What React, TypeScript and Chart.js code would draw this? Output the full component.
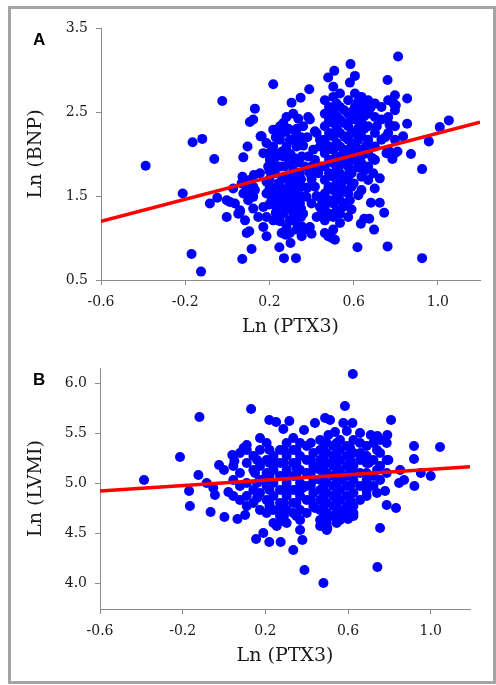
import React, { useEffect, useRef } from 'react';
import { Chart, registerables } from 'chart.js';

Chart.register(...registerables);

// ---------- data ----------
const xTickValues = [-0.6, -0.2, 0.2, 0.6, 1.0];
const bnpTickValues = [0.5, 1.5, 2.5, 3.5];
const lvmiTickValues = [4.0, 4.5, 5.0, 5.5, 6.0];

const fitLineX = [-0.6, 1.2];
const fitBnpY = [1.2, 2.38];
const fitLvmiY = [4.92, 5.165];

// Panel A: [Ln (PTX3), Ln (BNP)]
const ptx3VsBnp: [number, number][] = [
  [-0.388, 1.86], [-0.212, 1.53], [-0.17, 0.81], [-0.125, 0.6], [-0.165, 2.14], [-0.119, 2.18],
  [-0.024, 2.63], [-0.062, 1.94], [-0.083, 1.41], [-0.048, 1.48], [-0.003, 1.25], [-0.003, 1.45],
  [0.028, 1.59], [0.071, 0.75], [0.115, 0.87], [0.092, 1.06], [0.218, 2.83], [0.131, 2.54],
  [0.107, 2.38], [0.123, 2.41], [0.158, 2.21], [0.096, 2.09], [0.076, 1.96], [0.072, 1.73],
  [0.126, 1.75], [0.1, 1.53], [0.06, 1.31], [0.186, 1.02], [0.247, 0.89], [0.269, 0.76],
  [0.326, 0.76], [0.3, 0.94], [0.277, 1.04], [0.353, 1.02], [0.392, 1.13], [0.305, 2.61],
  [0.348, 2.67], [0.389, 2.77], [0.384, 2.44], [0.326, 2.25], [0.281, 2.44], [0.479, 2.91],
  [0.508, 2.99], [0.585, 3.07], [0.606, 2.93], [0.582, 2.85], [0.811, 3.16], [0.761, 2.88],
  [0.796, 2.7], [0.8, 2.58], [0.854, 2.66], [0.854, 2.36], [1.009, 2.32], [1.052, 2.4],
  [0.957, 2.15], [0.925, 1.82], [0.872, 2.0], [0.835, 2.21], [0.808, 2.03], [0.784, 1.94],
  [0.756, 2.01], [0.925, 0.76], [0.761, 0.9], [0.618, 0.89], [0.697, 1.1], [0.65, 1.23],
  [0.674, 1.23], [0.634, 1.17], [0.745, 1.3], [0.724, 1.42], [0.682, 1.42], [0.7, 1.59],
  [0.724, 1.71], [0.693, 1.77], [0.622, 1.51], [0.582, 1.45], [0.59, 1.34], [0.547, 1.68],
  [0.58, 1.77], [0.535, 1.18], [0.511, 0.98], [0.479, 1.02], [0.497, 1.0], [0.424, 1.5],
  [0.44, 1.27],
  [0.036, 1.41], [0.052, 1.29], [0.084, 1.21], [0.104, 1.08], [0.06, 1.33], [0.099, 1.45],
  [0.123, 1.49], [0.076, 1.53], [0.123, 1.35], [0.147, 1.25], [0.012, 1.43], [0.068, 1.65],
  [0.091, 1.61], [0.123, 1.61], [0.107, 1.69], [0.131, 1.57],
  [0.163, 2.21], [0.186, 2.13], [0.21, 2.05], [0.171, 2.01], [0.202, 1.93], [0.234, 1.97],
  [0.218, 2.09], [0.25, 2.17], [0.281, 2.09], [0.266, 1.97], [0.297, 1.89], [0.25, 1.85],
  [0.226, 1.77], [0.186, 1.67], [0.202, 1.61], [0.242, 1.65], [0.281, 1.73], [0.313, 1.81],
  [0.186, 1.53], [0.21, 1.45], [0.25, 1.49], [0.281, 1.45], [0.305, 1.53], [0.234, 1.37],
  [0.266, 1.29], [0.297, 1.21], [0.281, 1.13], [0.218, 1.21], [0.186, 1.25], [0.171, 1.13],
  [0.25, 1.61], [0.297, 1.65], [0.329, 1.69], [0.345, 1.77], [0.353, 1.97], [0.329, 2.09],
  [0.297, 2.17], [0.281, 2.27], [0.25, 2.33], [0.218, 2.29], [0.266, 2.37], [0.313, 2.48],
  [0.337, 2.42], [0.36, 2.33], [0.392, 2.41], [0.416, 2.27], [0.44, 2.17], [0.408, 2.05],
  [0.384, 1.97], [0.368, 1.85], [0.392, 1.77], [0.353, 1.61], [0.376, 1.49], [0.345, 1.41],
  [0.4, 1.41], [0.36, 1.29], [0.313, 1.37], [0.313, 1.29], [0.329, 1.1], [0.353, 1.14],
  [0.297, 1.06], [0.424, 1.25], [0.44, 1.37], [0.424, 2.25], [0.44, 2.09], [0.416, 1.93],
  [0.432, 1.77], [0.416, 1.61], [0.44, 1.85], [0.218, 1.53], [0.171, 1.37], [0.194, 1.85],
  [0.155, 1.77], [0.242, 1.21], [0.258, 1.06], [0.21, 1.77],
  [0.463, 2.64], [0.463, 2.48], [0.463, 2.33], [0.463, 2.17], [0.463, 2.01], [0.463, 1.85],
  [0.463, 1.69], [0.463, 1.53], [0.463, 1.37], [0.463, 1.21], [0.463, 1.06],
  [0.503, 2.8], [0.503, 2.68], [0.503, 2.52], [0.503, 2.37], [0.503, 2.21], [0.503, 2.05],
  [0.503, 1.89], [0.503, 1.73], [0.503, 1.57], [0.503, 1.41], [0.503, 1.25], [0.503, 1.1],
  [0.535, 2.72], [0.535, 2.56], [0.535, 2.41], [0.535, 2.25], [0.535, 2.09], [0.535, 1.93],
  [0.535, 1.77], [0.535, 1.61], [0.535, 1.45], [0.535, 1.29],
  [0.574, 2.64], [0.574, 2.48], [0.574, 2.33], [0.574, 2.17], [0.574, 2.01], [0.574, 1.85],
  [0.574, 1.69], [0.574, 1.53],
  [0.606, 2.72], [0.606, 2.56], [0.606, 2.41], [0.606, 2.25], [0.606, 2.09], [0.606, 1.93],
  [0.637, 2.68], [0.637, 2.52], [0.637, 2.37], [0.637, 2.21], [0.637, 2.05], [0.637, 1.89],
  [0.637, 1.73], [0.637, 1.57],
  [0.669, 2.64], [0.669, 2.48], [0.669, 2.33], [0.669, 2.17], [0.669, 2.01], [0.669, 1.85],
  [0.669, 1.69],
  [0.701, 2.6], [0.701, 2.44], [0.701, 2.25], [0.701, 2.09], [0.701, 1.93],
  [0.732, 2.56], [0.732, 2.41], [0.732, 2.17],
  [0.764, 2.64], [0.764, 2.44], [0.764, 2.25], [0.764, 2.05],
  [0.796, 2.52], [0.796, 2.33], [0.796, 2.17], [0.796, 2.01],
  [0.574, 1.25], [0.55, 1.37],
  [0.48, 1.6], [0.52, 1.5], [0.49, 1.75], [0.51, 1.95], [0.47, 2.1], [0.52, 2.3],
  [0.49, 2.45], [0.55, 2.0], [0.56, 2.2], [0.53, 1.85], [0.6, 2.0], [0.62, 2.3],
  [0.59, 2.5], [0.45, 1.45], [0.47, 1.3], [0.55, 1.55], [0.6, 1.65], [0.65, 2.45],
  [0.68, 2.55], [0.71, 2.33], [0.75, 2.2], [0.77, 2.35], [0.79, 2.6], [0.66, 2.1],
  [0.63, 1.95], [0.69, 1.95],
  [0.2, 1.7], [0.23, 1.45], [0.26, 1.55], [0.29, 1.35], [0.25, 1.2], [0.32, 1.55],
  [0.35, 1.25], [0.38, 1.6], [0.3, 1.75], [0.27, 1.85], [0.22, 1.9], [0.24, 2.0],
  [0.3, 2.0], [0.34, 1.9], [0.36, 2.1], [0.38, 2.2], [0.33, 2.3], [0.4, 1.85],
  [0.4, 1.7], [0.4, 1.05], [0.37, 1.1],
  [0.483, 2.56], [0.483, 2.4], [0.483, 2.25], [0.483, 2.09], [0.483, 1.93], [0.483, 1.77],
  [0.483, 1.61], [0.483, 1.45], [0.483, 1.29],
  [0.519, 2.6], [0.519, 2.45], [0.519, 2.29], [0.519, 2.13], [0.519, 1.97], [0.519, 1.81],
  [0.519, 1.65], [0.519, 1.49], [0.519, 1.33],
  [0.555, 2.52], [0.555, 2.37], [0.555, 2.21], [0.555, 2.05], [0.555, 1.89], [0.555, 1.73],
  [0.555, 1.57], [0.555, 1.41],
  [0.59, 2.41], [0.59, 2.25], [0.59, 2.09], [0.59, 1.93], [0.59, 1.77], [0.59, 1.61],
  [0.62, 2.62], [0.62, 2.48], [0.62, 2.16], [0.62, 1.84],
  [0.65, 2.6], [0.65, 2.3], [0.65, 2.0], [0.65, 1.8],
  [0.2, 2.0], [0.2, 1.8], [0.2, 1.58], [0.2, 1.4],
  [0.23, 2.2], [0.23, 1.85], [0.23, 1.6], [0.23, 1.3],
  [0.26, 2.25], [0.26, 2.03], [0.26, 1.7], [0.26, 1.4],
  [0.29, 2.3], [0.29, 1.95], [0.29, 1.6], [0.29, 1.5],
  [0.32, 2.15], [0.32, 1.95], [0.32, 1.65], [0.32, 1.45], [0.32, 1.2],
  [0.35, 2.2], [0.35, 1.7], [0.35, 1.5], [0.35, 1.35],
];

// Panel B: [Ln (PTX3), Ln (LVMI)]
const ptx3VsLvmi: [number, number][] = [
  [-0.387, 5.03], [-0.213, 5.26], [-0.169, 4.92], [-0.165, 4.77], [-0.119, 5.66], [-0.124, 5.08],
  [-0.084, 5.0], [-0.065, 4.71], [-0.044, 4.88], [-0.052, 4.95], [-0.024, 5.18], [0.0, 5.13],
  [0.002, 4.66], [0.021, 4.91], [0.04, 5.28], [0.065, 4.64], [0.102, 4.68], [0.11, 5.38],
  [0.131, 5.74], [0.155, 4.44], [0.19, 4.5], [0.219, 4.41], [0.274, 4.41], [0.335, 4.33],
  [0.368, 4.53], [0.379, 4.43], [0.389, 4.13], [0.481, 4.0], [0.623, 6.09], [0.585, 5.77],
  [0.808, 5.63], [0.742, 4.16], [0.755, 4.55], [0.779, 4.92], [0.787, 4.78], [0.832, 4.75],
  [0.847, 5.0], [0.919, 5.37], [0.919, 5.24], [0.921, 4.97], [0.952, 5.1], [1.0, 5.07],
  [1.045, 5.36], [0.852, 5.13], [0.871, 5.03], [0.795, 5.23],
  [0.174, 5.45], [0.219, 5.63], [0.252, 5.61], [0.316, 5.62], [0.287, 5.54], [0.387, 5.53],
  [0.44, 5.6], [0.489, 5.65], [0.513, 5.63], [0.335, 5.45], [0.577, 5.6], [0.621, 5.6],
  [0.505, 5.48], [0.537, 5.51], [0.594, 5.52], [0.658, 5.5], [0.79, 5.48], [0.742, 5.47],
  [0.71, 5.48],
  [0.045, 5.17], [0.045, 5.03], [0.045, 4.87],
  [0.077, 5.3], [0.077, 5.1], [0.077, 4.97], [0.077, 4.83],
  [0.11, 5.33], [0.11, 5.2], [0.11, 5.0], [0.11, 4.87], [0.11, 4.77],
  [0.142, 5.27], [0.142, 5.13], [0.142, 4.93], [0.142, 4.8],
  [0.174, 5.33], [0.174, 5.17], [0.174, 5.03], [0.174, 4.9], [0.174, 4.73],
  [0.206, 5.4], [0.206, 5.23], [0.206, 5.1], [0.206, 4.97], [0.206, 4.83], [0.206, 4.7],
  [0.239, 5.27], [0.239, 5.13], [0.239, 5.0], [0.239, 4.87], [0.239, 4.73], [0.239, 4.6],
  [0.271, 5.33], [0.271, 5.2], [0.271, 5.07], [0.271, 4.93], [0.271, 4.8], [0.271, 4.67],
  [0.303, 5.4], [0.303, 5.27], [0.303, 5.13], [0.303, 5.0], [0.303, 4.87], [0.303, 4.73], [0.303, 4.6],
  [0.335, 5.33], [0.335, 5.2], [0.335, 5.07], [0.335, 4.93], [0.335, 4.8], [0.335, 4.7],
  [0.368, 5.4], [0.368, 5.27], [0.368, 5.13], [0.368, 5.0], [0.368, 4.87], [0.368, 4.73], [0.368, 4.63],
  [0.4, 5.37], [0.4, 5.23], [0.4, 5.1], [0.4, 4.97], [0.4, 4.83], [0.4, 4.7],
  [0.432, 5.3], [0.432, 5.17], [0.432, 5.03], [0.432, 4.9], [0.432, 4.77],
  [0.465, 5.43], [0.465, 5.33], [0.465, 5.23], [0.465, 5.13], [0.465, 5.03], [0.465, 4.93],
  [0.465, 4.83], [0.465, 4.73], [0.465, 4.63],
  [0.497, 5.4], [0.497, 5.3], [0.497, 5.2], [0.497, 5.1], [0.497, 5.0], [0.497, 4.9],
  [0.497, 4.8], [0.497, 4.7], [0.497, 4.6], [0.497, 4.53],
  [0.529, 5.37], [0.529, 5.27], [0.529, 5.17], [0.529, 5.07], [0.529, 4.97], [0.529, 4.87],
  [0.529, 4.77], [0.529, 4.67],
  [0.561, 5.43], [0.561, 5.33], [0.561, 5.23], [0.561, 5.13], [0.561, 5.03], [0.561, 4.93],
  [0.561, 4.83], [0.561, 4.73], [0.561, 4.63],
  [0.594, 5.37], [0.594, 5.27], [0.594, 5.17], [0.594, 5.07], [0.594, 4.97], [0.594, 4.87], [0.594, 4.77],
  [0.626, 5.43], [0.626, 5.3], [0.626, 5.17], [0.626, 5.03], [0.626, 4.9], [0.626, 4.77], [0.626, 4.67],
  [0.658, 5.4], [0.658, 5.23], [0.658, 5.1], [0.658, 4.97], [0.658, 4.83],
  [0.69, 5.37], [0.69, 5.27], [0.69, 5.1], [0.69, 4.97], [0.69, 4.87],
  [0.723, 5.4], [0.723, 5.23], [0.723, 5.07], [0.723, 4.97],
  [0.755, 5.43], [0.755, 5.3], [0.755, 5.17], [0.755, 5.03],
  [0.787, 5.4], [0.787, 5.23], [0.787, 5.1],
  [0.6, 4.64], [0.626, 4.7], [0.465, 4.57], [0.5, 4.55], [0.255, 4.57], [0.28, 4.62],
  [0.05, 5.22], [0.095, 5.35],
  [0.45, 5.15], [0.48, 4.95], [0.52, 5.2], [0.54, 4.85], [0.57, 5.05], [0.5, 4.65],
  [0.44, 4.75], [0.58, 4.7], [0.62, 5.1], [0.66, 5.3], [0.7, 5.2], [0.35, 5.15],
  [0.3, 4.95], [0.25, 5.2], [0.2, 5.05], [0.15, 5.1], [0.22, 4.8], [0.28, 4.75],
  [0.38, 4.95], [0.42, 5.4],
  [0.48, 5.35], [0.48, 5.25], [0.48, 5.15], [0.48, 5.05], [0.48, 4.85], [0.48, 4.75],
  [0.48, 4.65], [0.48, 4.57],
  [0.545, 5.4], [0.545, 5.3], [0.545, 5.2], [0.545, 5.1], [0.545, 5.0], [0.545, 4.9],
  [0.545, 4.8], [0.545, 4.7], [0.545, 4.6],
  [0.61, 5.35], [0.61, 5.23], [0.61, 5.1], [0.61, 4.97], [0.61, 4.83], [0.61, 4.72],
  [0.42, 5.23], [0.42, 5.1], [0.42, 4.97], [0.42, 4.83],
  [0.35, 5.33], [0.35, 5.2], [0.35, 5.07], [0.35, 4.93], [0.35, 4.8], [0.35, 4.67],
  [0.29, 5.33], [0.29, 5.2], [0.29, 5.07], [0.29, 4.93], [0.29, 4.8], [0.29, 4.67],
  [0.22, 5.33], [0.22, 5.2], [0.22, 5.07], [0.22, 4.93], [0.22, 4.77],
  [0.16, 5.23], [0.16, 5.0], [0.16, 4.85],
  [0.69, 5.2], [0.69, 5.03], [0.69, 4.92],
  [0.74, 5.33], [0.74, 5.13], [0.74, 4.9],
];

// ---------- styling ----------
const AXIS_COLOR = '#8a8a8a';
const TEXT_COLOR = '#1a1a1a';
const SERIF = "'DejaVu Serif', serif";

type PanelSpec = {
  points: [number, number][];
  fitY: number[];
  yMin: number;
  yMax: number;
  yTicks: number[];
  xMax: number;
  yTitle: string;
  padding: { top: number; right: number; bottom: number; left: number };
  yAxisWidth: number;
};

function buildConfig(p: PanelSpec): any {
  return {
    type: 'scatter',
    data: {
      datasets: [
        {
          type: 'line',
          data: fitLineX.map((x, i) => ({ x, y: p.fitY[i] })),
          borderColor: '#ff0000',
          borderWidth: 3.5,
          pointRadius: 0,
          fill: false,
          order: 0,
        },
        {
          type: 'scatter',
          data: p.points.map(([x, y]) => ({ x, y })),
          backgroundColor: '#0000ff',
          borderWidth: 0,
          pointRadius: 5,
          order: 1,
        },
      ],
    },
    options: {
      responsive: false,
      animation: false,
      events: [],
      layout: { padding: p.padding },
      plugins: { legend: { display: false }, tooltip: { enabled: false } },
      scales: {
        x: {
          type: 'linear',
          min: -0.6,
          max: p.xMax,
          afterBuildTicks: (s: any) => {
            s.ticks = xTickValues.map((v) => ({ value: v }));
          },
          afterFit: (s: any) => {
            s.height = 60;
          },
          grid: { drawOnChartArea: false, drawTicks: true, tickLength: 5, color: AXIS_COLOR },
          border: { display: true, color: AXIS_COLOR, width: 1 },
          ticks: {
            font: { family: SERIF, size: 14 },
            color: TEXT_COLOR,
            padding: 9,
            maxRotation: 0,
            autoSkip: false,
            callback: (v: any) => Number(v).toFixed(1),
          },
          title: {
            display: true,
            text: 'Ln (PTX3)',
            font: { family: SERIF, size: 19 },
            color: TEXT_COLOR,
            padding: { top: 0, bottom: 2 },
          },
        },
        y: {
          type: 'linear',
          min: p.yMin,
          max: p.yMax,
          afterBuildTicks: (s: any) => {
            s.ticks = p.yTicks.map((v) => ({ value: v }));
          },
          afterFit: (s: any) => {
            s.width = p.yAxisWidth;
          },
          grid: { drawOnChartArea: false, drawTicks: true, tickLength: 5, color: AXIS_COLOR },
          border: { display: true, color: AXIS_COLOR, width: 1 },
          ticks: {
            font: { family: SERIF, size: 14 },
            color: TEXT_COLOR,
            padding: 8,
            autoSkip: false,
            callback: (v: any) => Number(v).toFixed(1),
          },
          title: {
            display: true,
            text: p.yTitle,
            font: { family: SERIF, size: 19 },
            color: TEXT_COLOR,
            padding: { top: 25, bottom: 0 },
          },
        },
      },
    },
  };
}

const panelA: PanelSpec = {
  points: ptx3VsBnp,
  fitY: fitBnpY,
  yMin: 0.5,
  yMax: 3.5,
  yTicks: bnpTickValues,
  xMax: 1.2,
  yTitle: 'Ln (BNP)',
  padding: { top: 28, right: 16, bottom: 0, left: 0 },
  yAxisWidth: 101,
};

const panelB: PanelSpec = {
  points: ptx3VsLvmi,
  fitY: fitLvmiY,
  yMin: 3.74,
  yMax: 6.15,
  yTicks: lvmiTickValues,
  xMax: 1.19,
  yTitle: 'Ln (LVMI)',
  padding: { top: 28, right: 26, bottom: 16, left: 0 },
  yAxisWidth: 100,
};

function Panel({ spec, top, height, letter }: { spec: PanelSpec; top: number; height: number; letter: string }) {
  const ref = useRef<HTMLCanvasElement | null>(null);
  useEffect(() => {
    if (!ref.current) return;
    const chart = new Chart(ref.current, buildConfig(spec));
    return () => chart.destroy();
  }, [spec]);
  return (
    <>
      <canvas
        ref={ref}
        width={496}
        height={height}
        style={{ position: 'absolute', left: 0, top, width: 496, height }}
      />
      <div
        style={{
          position: 'absolute',
          left: 33,
          top: top + 31,
          fontFamily: "'Liberation Sans', Arial, sans-serif",
          fontWeight: 'bold',
          fontSize: 17,
          lineHeight: '17px',
          color: '#000',
        }}
      >
        {letter}
      </div>
    </>
  );
}

export default function App() {
  useEffect(() => {
    document.body.style.margin = '0';
    document.body.style.overflow = 'hidden';
  }, []);
  return (
    <div style={{ position: 'absolute', left: 0, top: 0, width: 496, height: 685, overflow: 'hidden', background: '#fff' }}>
      <div
        style={{
          position: 'absolute',
          left: 8,
          top: 6,
          width: 488,
          height: 678,
          boxSizing: 'border-box',
          border: '3px solid #a4a4a4',
        }}
      />
      <Panel spec={panelA} top={0} height={340} letter="A" />
      <Panel spec={panelB} top={340} height={345} letter="B" />
    </div>
  );
}
